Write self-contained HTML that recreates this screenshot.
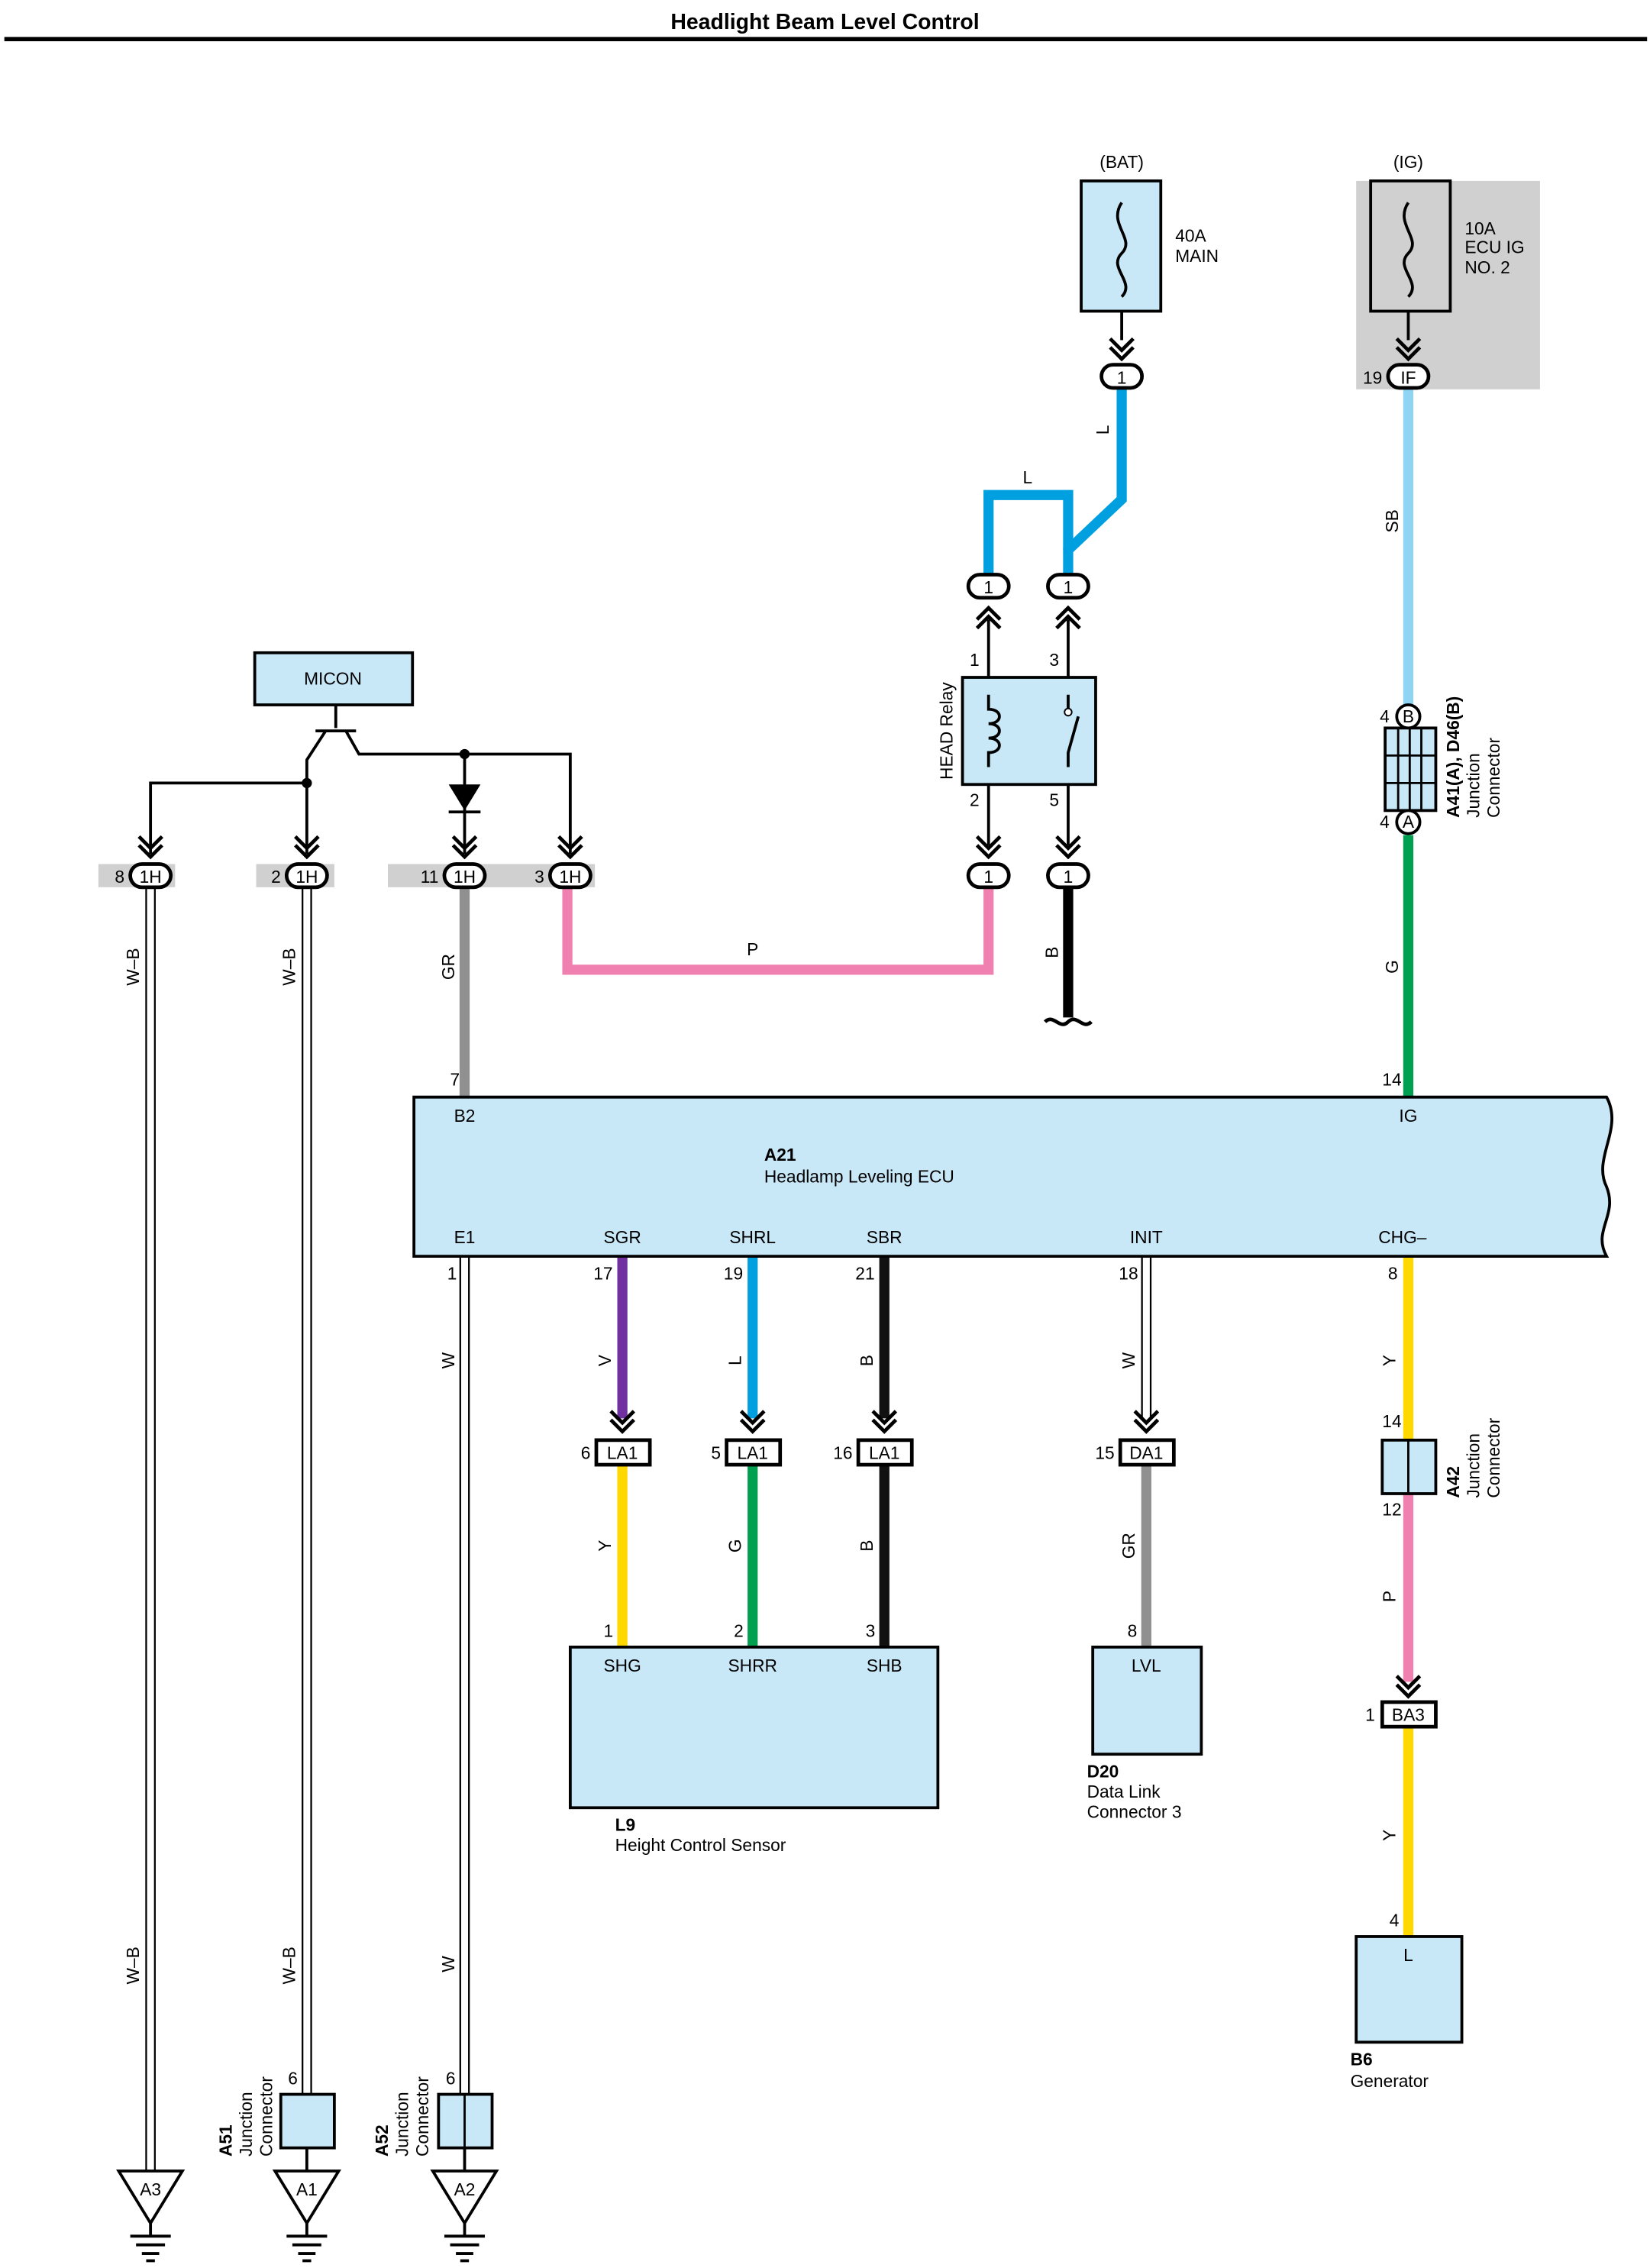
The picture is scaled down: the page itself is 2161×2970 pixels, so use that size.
<!DOCTYPE html>
<html><head><meta charset="utf-8"><style>html,body{margin:0;padding:0;background:#fff}svg{display:block}</style></head><body>
<svg width="2161" height="2970" viewBox="0 0 1140 1567" preserveAspectRatio="none" xmlns="http://www.w3.org/2000/svg" font-family="Liberation Sans, sans-serif" font-size="12">
<defs>
<g id="dn"><path d="M-8,-10 L0,-2 L8,-10 M-8,-4 L0,4 L8,-4" fill="none" stroke="#000" stroke-width="2.5"/></g>
<g id="up"><path d="M-8,10 L0,2 L8,10 M-8,4 L0,-4 L8,4" fill="none" stroke="#000" stroke-width="2.5"/></g>
</defs>
<text x="570" y="20" font-size="15" font-weight="bold" text-anchor="middle">Headlight Beam Level Control</text>
<line x1="3" y1="27" x2="1138" y2="27" stroke="#000" stroke-width="3"/>

<!-- IG gray area -->
<rect x="937" y="125" width="127" height="144" fill="#d0d0d0"/>
<!-- gray strips -->
<rect x="68" y="597" width="53" height="16" fill="#d0d0d0"/>
<rect x="177" y="597" width="54" height="16" fill="#d0d0d0"/>
<rect x="268" y="597" width="143" height="16" fill="#d0d0d0"/>

<!-- BAT fuse -->
<text x="775" y="116" text-anchor="middle">(BAT)</text>
<rect x="747" y="125" width="55" height="90" fill="#c8e8f8" stroke="#000" stroke-width="2"/>
<path d="M775,140 C765,155 785,165 775,175 C765,185 785,195 775,205" fill="none" stroke="#000" stroke-width="2"/>
<line x1="775" y1="215" x2="775" y2="235" stroke="#000" stroke-width="2"/>
<text x="812" y="167">40A</text><text x="812" y="181">MAIN</text>
<use href="#dn" x="775" y="244"/>
<!-- IG fuse -->
<text x="973" y="116" text-anchor="middle">(IG)</text>
<rect x="947" y="125" width="55" height="90" fill="#d0d0d0" stroke="#000" stroke-width="2"/>
<path d="M973,140 C963,155 983,165 973,175 C963,185 983,195 973,205" fill="none" stroke="#000" stroke-width="2"/>
<line x1="973" y1="215" x2="973" y2="235" stroke="#000" stroke-width="2"/>
<text x="1012" y="162">10A</text><text x="1012" y="175">ECU IG</text><text x="1012" y="189">NO. 2</text>
<use href="#dn" x="973" y="244"/>

<!-- colored wires -->
<g fill="none" stroke-width="7">
<path d="M775,268 V345 L738,380 V398" stroke="#00a0e0"/>
<path d="M738,380 V342 H683 V398" stroke="#00a0e0"/>
<path d="M683,613 V670 H392 V613" stroke="#f080b0"/>
<path d="M738,613 V703" stroke="#000"/>
<path d="M973,268 V487" stroke="#90d4f4"/>
<path d="M973,577 V758" stroke="#00a050"/>
<path d="M321,613 V758" stroke="#909090"/>
<path d="M430,868 V980" stroke="#7030a0"/>
<path d="M430,1012 V1138" stroke="#ffd800"/>
<path d="M520,868 V980" stroke="#00a0e0"/>
<path d="M520,1012 V1138" stroke="#00a050"/>
<path d="M611,868 V980" stroke="#111"/>
<path d="M611,1012 V1138" stroke="#111"/>
<path d="M792,1012 V1138" stroke="#909090"/>
<path d="M973,868 V995" stroke="#ffd800"/>
<path d="M973,1032 V1162" stroke="#f080b0"/>
<path d="M973,1193 V1338" stroke="#ffd800"/>
</g>
<path d="M722,706 C728,700 732,712 738,706 C744,700 748,712 754,706" fill="none" stroke="#000" stroke-width="2.5"/>
<!-- double thin wires -->
<g fill="none" stroke="#000" stroke-width="1.2">
<path d="M101,613 V1500 M107,613 V1500"/>
<path d="M209,613 V1447 M215,613 V1447"/>
<path d="M318,868 V1447 M324,868 V1447"/>
<path d="M789,868 V980 M795,868 V980"/>
</g>

<!-- wire labels -->
<g text-anchor="middle">
<text transform="translate(766,297) rotate(-90)">L</text>
<text x="710" y="334">L</text>
<text x="520" y="660">P</text>
<text transform="translate(731,658) rotate(-90)">B</text>
<text transform="translate(966,360) rotate(-90)">SB</text>
<text transform="translate(966,668) rotate(-90)">G</text>
<text transform="translate(314,668) rotate(-90)">GR</text>
<text transform="translate(96,668) rotate(-90)">W–B</text>
<text transform="translate(204,668) rotate(-90)">W–B</text>
<text transform="translate(96,1358) rotate(-90)">W–B</text>
<text transform="translate(204,1358) rotate(-90)">W–B</text>
<text transform="translate(314,940) rotate(-90)">W</text>
<text transform="translate(314,1357) rotate(-90)">W</text>
<text transform="translate(422,940) rotate(-90)">V</text>
<text transform="translate(422,1068) rotate(-90)">Y</text>
<text transform="translate(512,940) rotate(-90)">L</text>
<text transform="translate(512,1068) rotate(-90)">G</text>
<text transform="translate(603,940) rotate(-90)">B</text>
<text transform="translate(603,1068) rotate(-90)">B</text>
<text transform="translate(784,940) rotate(-90)">W</text>
<text transform="translate(784,1068) rotate(-90)">GR</text>
<text transform="translate(964,940) rotate(-90)">Y</text>
<text transform="translate(964,1103) rotate(-90)">P</text>
<text transform="translate(964,1268) rotate(-90)">Y</text>
</g>

<!-- oval connectors -->
<g fill="#fff" stroke="#000" stroke-width="2.5">
<rect x="761" y="252" width="28" height="16" rx="8"/>
<rect x="959" y="252" width="28" height="16" rx="8"/>
<rect x="669" y="397" width="28" height="16" rx="8"/>
<rect x="724" y="397" width="28" height="16" rx="8"/>
<rect x="669" y="597" width="28" height="16" rx="8"/>
<rect x="724" y="597" width="28" height="16" rx="8"/>
<rect x="90" y="597" width="28" height="16" rx="8"/>
<rect x="198" y="597" width="28" height="16" rx="8"/>
<rect x="307" y="597" width="28" height="16" rx="8"/>
<rect x="380" y="597" width="28" height="16" rx="8"/>
</g>
<g text-anchor="middle">
<text x="775" y="265">1</text><text x="973" y="265">IF</text>
<text x="683" y="410">1</text><text x="738" y="410">1</text>
<text x="683" y="610">1</text><text x="738" y="610">1</text>
<text x="104" y="610">1H</text><text x="212" y="610">1H</text><text x="321" y="610">1H</text><text x="394" y="610">1H</text>
</g>
<g text-anchor="end">
<text x="955" y="265">19</text>
<text x="86" y="610">8</text><text x="194" y="610">2</text><text x="303" y="610">11</text><text x="376" y="610">3</text>
</g>
<use href="#up" x="683" y="424"/><use href="#up" x="738" y="424"/>
<use href="#dn" x="683" y="588"/><use href="#dn" x="738" y="588"/>
<line x1="683" y1="428" x2="683" y2="468" stroke="#000" stroke-width="2"/>
<line x1="738" y1="428" x2="738" y2="468" stroke="#000" stroke-width="2"/>
<line x1="683" y1="542" x2="683" y2="584" stroke="#000" stroke-width="2"/>
<line x1="738" y1="542" x2="738" y2="584" stroke="#000" stroke-width="2"/>
<text x="670" y="460">1</text><text x="725" y="460">3</text>
<text x="670" y="557">2</text><text x="725" y="557">5</text>

<!-- relay -->
<rect x="665" y="468" width="92" height="74" fill="#c8e8f8" stroke="#000" stroke-width="2"/>
<path d="M683,480 V490 C693,490 693,500 683,500 C693,500 693,510 683,510 C693,510 693,520 683,520 V530" fill="none" stroke="#000" stroke-width="2"/>
<path d="M738,480 V490 M738,530 V520 L745,495" fill="none" stroke="#000" stroke-width="2"/>
<circle cx="738" cy="492" r="2.5" fill="#fff" stroke="#000"/>
<text transform="translate(658,505) rotate(-90)" text-anchor="middle">HEAD Relay</text>

<!-- junction A41 -->
<circle cx="973" cy="495" r="8" fill="#fff" stroke="#000" stroke-width="2"/>
<text x="973" y="499" text-anchor="middle">B</text><text x="960" y="499" text-anchor="end">4</text>
<rect x="957" y="503" width="35" height="57" fill="#c8e8f8" stroke="#000" stroke-width="2"/>
<path d="M966,503 V560 M974,503 V560 M982,503 V560 M957,522 H992 M957,541 H992" stroke="#000" stroke-width="1.5"/>
<circle cx="973" cy="568" r="8" fill="#fff" stroke="#000" stroke-width="2"/>
<text x="973" y="572" text-anchor="middle">A</text><text x="960" y="572" text-anchor="end">4</text>
<text transform="translate(1008,565) rotate(-90)" font-weight="bold">A41(A), D46(B)</text>
<text transform="translate(1022,565) rotate(-90)">Junction</text>
<text transform="translate(1036,565) rotate(-90)">Connector</text>

<!-- MICON -->
<rect x="176" y="451" width="109" height="36" fill="#c8e8f8" stroke="#000" stroke-width="2"/>
<text x="230" y="473" text-anchor="middle">MICON</text>
<g fill="none" stroke="#000" stroke-width="2">
<path d="M232,487 V503 M218,505 H246 M225,505 L212,525 V541 M239,505 L248,521 H394 V590"/>
<path d="M104,590 V541 H212 V590"/>
<path d="M321,521 V590"/>
</g>
<circle cx="212" cy="541" r="3.5"/><circle cx="321" cy="521" r="3.5"/>
<path d="M310,542 H332 L321,560 Z" fill="#000"/><line x1="310" y1="561" x2="332" y2="561" stroke="#000" stroke-width="2"/>
<use href="#dn" x="104" y="588"/><use href="#dn" x="212" y="588"/><use href="#dn" x="321" y="588"/><use href="#dn" x="394" y="588"/>

<!-- ECU -->
<path d="M286,758 H1110 C1122,780 1100,800 1110,820 C1118,840 1100,850 1110,868 H286 Z" fill="#c8e8f8" stroke="#000" stroke-width="2"/>
<text x="311" y="750">7</text><text x="955" y="750">14</text>
<g text-anchor="middle">
<text x="321" y="775">B2</text><text x="973" y="775">IG</text>
<text x="321" y="859">E1</text><text x="430" y="859">SGR</text><text x="520" y="859">SHRL</text><text x="611" y="859">SBR</text><text x="792" y="859">INIT</text><text x="969" y="859">CHG–</text>
</g>
<text x="528" y="802" font-weight="bold">A21</text>
<text x="528" y="817">Headlamp Leveling ECU</text>
<text x="309" y="884">1</text><text x="410" y="884">17</text><text x="500" y="884">19</text><text x="591" y="884">21</text><text x="773" y="884">18</text><text x="959" y="884">8</text>

<!-- LA1 connectors -->
<use href="#dn" x="430" y="985"/><use href="#dn" x="520" y="985"/><use href="#dn" x="611" y="985"/><use href="#dn" x="792" y="985"/>
<g fill="#fff" stroke="#000" stroke-width="2.5">
<rect x="412" y="995" width="37" height="17"/><rect x="502" y="995" width="37" height="17"/><rect x="593" y="995" width="37" height="17"/><rect x="774" y="995" width="37" height="17"/>
</g>
<g text-anchor="middle"><text x="430" y="1008">LA1</text><text x="520" y="1008">LA1</text><text x="611" y="1008">LA1</text><text x="792" y="1008">DA1</text></g>
<g text-anchor="end"><text x="408" y="1008">6</text><text x="498" y="1008">5</text><text x="589" y="1008">16</text><text x="770" y="1008">15</text></g>
<text x="417" y="1131">1</text><text x="507" y="1131">2</text><text x="598" y="1131">3</text><text x="779" y="1131">8</text>

<!-- L9 -->
<rect x="394" y="1138" width="254" height="111" fill="#c8e8f8" stroke="#000" stroke-width="2"/>
<g text-anchor="middle"><text x="430" y="1155">SHG</text><text x="520" y="1155">SHRR</text><text x="611" y="1155">SHB</text></g>
<text x="425" y="1265" font-weight="bold">L9</text><text x="425" y="1279">Height Control Sensor</text>
<!-- D20 -->
<rect x="755" y="1138" width="75" height="74" fill="#c8e8f8" stroke="#000" stroke-width="2"/>
<text x="792" y="1155" text-anchor="middle">LVL</text>
<text x="751" y="1228" font-weight="bold">D20</text><text x="751" y="1242">Data Link</text><text x="751" y="1256">Connector 3</text>

<!-- A42 -->
<text x="955" y="986">14</text><text x="955" y="1047">12</text>
<rect x="955" y="995" width="37" height="37" fill="#c8e8f8" stroke="#000" stroke-width="2"/>
<line x1="973" y1="995" x2="973" y2="1032" stroke="#000" stroke-width="1.5"/>
<text transform="translate(1008,1035) rotate(-90)" font-weight="bold">A42</text>
<text transform="translate(1022,1035) rotate(-90)">Junction</text>
<text transform="translate(1036,1035) rotate(-90)">Connector</text>
<use href="#dn" x="973" y="1168"/>
<rect x="955" y="1176" width="37" height="17" fill="#fff" stroke="#000" stroke-width="2.5"/>
<text x="973" y="1189" text-anchor="middle">BA3</text><text x="950" y="1189" text-anchor="end">1</text>
<text x="960" y="1331">4</text>
<rect x="937" y="1338" width="73" height="73" fill="#c8e8f8" stroke="#000" stroke-width="2"/>
<text x="973" y="1355" text-anchor="middle">L</text>
<text x="933" y="1427" font-weight="bold">B6</text><text x="933" y="1442">Generator</text>

<!-- A51/A52 junctions -->
<text x="199" y="1440">6</text><text x="308" y="1440">6</text>
<rect x="194" y="1447" width="37" height="37" fill="#c8e8f8" stroke="#000" stroke-width="2"/>
<rect x="303" y="1447" width="37" height="37" fill="#c8e8f8" stroke="#000" stroke-width="2"/>
<line x1="321" y1="1447" x2="321" y2="1484" stroke="#000" stroke-width="1.5"/>
<line x1="212" y1="1484" x2="212" y2="1500" stroke="#000" stroke-width="2"/>
<line x1="321" y1="1484" x2="321" y2="1500" stroke="#000" stroke-width="2"/>
<text transform="translate(160,1490) rotate(-90)" font-weight="bold">A51</text>
<text transform="translate(174,1490) rotate(-90)">Junction</text>
<text transform="translate(188,1490) rotate(-90)">Connector</text>
<text transform="translate(268,1490) rotate(-90)" font-weight="bold">A52</text>
<text transform="translate(282,1490) rotate(-90)">Junction</text>
<text transform="translate(296,1490) rotate(-90)">Connector</text>

<!-- grounds -->
<g fill="#fff" stroke="#000" stroke-width="2">
<path d="M82,1500 H126 L104,1536 Z"/><path d="M190,1500 H234 L212,1536 Z"/><path d="M299,1500 H343 L321,1536 Z"/>
<path d="M104,1536 V1545 M90,1545 H118 M94,1551 H114 M98,1557 H110 M101,1562 H107"/>
<path d="M212,1536 V1545 M198,1545 H226 M202,1551 H222 M206,1557 H218 M209,1562 H215"/>
<path d="M321,1536 V1545 M307,1545 H335 M311,1551 H331 M315,1557 H327 M318,1562 H324"/>
</g>
<g text-anchor="middle"><text x="104" y="1517">A3</text><text x="212" y="1517">A1</text><text x="321" y="1517">A2</text></g>
</svg>
</body></html>
